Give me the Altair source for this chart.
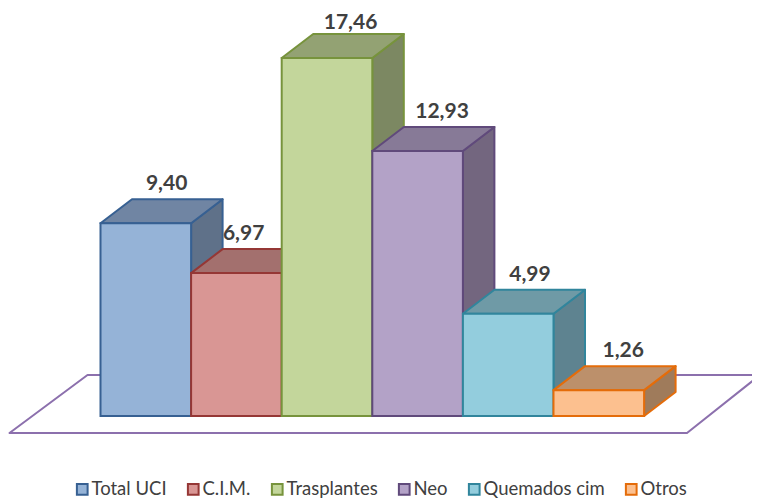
import altair as alt
import pandas as pd

categories = ["Total UCI", "C.I.M.", "Trasplantes", "Neo", "Quemados cim", "Otros"]
values = [9.40, 6.97, 17.46, 12.93, 4.99, 1.26]
labels = ["9,40", "6,97", "17,46", "12,93", "4,99", "1,26"]
front_fill = ["#95B3D7", "#D99694", "#C3D69B", "#B3A2C7", "#93CDDD", "#FCC08F"]
edge = ["#376092", "#953735", "#77933C", "#604A7B", "#31859C", "#E46C0A"]
top_fill = ["#7085A3", "#A3706E", "#93A273", "#877A97", "#6F9AA6", "#BC906B"]
side_fill = ["#5F7189", "#8A5F5E", "#7C8862", "#73667F", "#5E8390", "#9F7B5B"]
label_shift = [0.73, 0.58, 0.76, 0.77, 0.74, 0.77]
label_lift = [0, 0, -4, 0, 0, 0]

W, H = 744, 490
SLOT = 90.6
UNIT = 20.5
X0 = 92.5
Y0 = 408
DX = 31.5 / SLOT
DY = 24 / UNIT

xs = alt.Scale(domain=[-X0 / SLOT, (W - X0) / SLOT], nice=False, zero=False)
ys = alt.Scale(domain=[(Y0 - H) / UNIT, Y0 / UNIT], nice=False, zero=False)
X = alt.X("x:Q", scale=xs, axis=None)
Y = alt.Y("y:Q", scale=ys, axis=None)
Y2 = alt.Y2("y2:Q")


def poly(points, fill, stroke, sw=2):
    df = pd.DataFrame(points, columns=["x", "y", "y2"])
    return alt.Chart(df).mark_area(
        fill=fill, stroke=stroke, strokeWidth=sw, opacity=1, interpolate="linear", strokeJoin="round"
    ).encode(x=X, y=Y, y2=Y2)


layers = []
# floor plane
fb, ft = -17 / UNIT, 41 / UNIT
layers.append(poly(
    [(-91 / SLOT, fb, fb), (-13 / SLOT, ft, fb), (586.5 / SLOT, ft, fb), (659.5 / SLOT, ft, ft)],
    "#FFFFFF", "#8C70AD", 2,
))

color_scale = alt.Scale(domain=categories, range=front_fill)
stroke_scale = alt.Scale(domain=categories, range=edge)
legend = alt.Legend(
    title=None, orient="none", legendX=65, legendY=472, direction="horizontal", columns=6,
    symbolType="square", symbolSize=115, symbolStrokeWidth=2, symbolOpacity=1,
    labelFont="Lato", labelFontSize=18.5, labelColor="#404040", labelOffset=0,
    columnPadding=16, gridAlign="each", labelLimit=200, padding=0,
)

for i, (cat, v) in enumerate(zip(categories, values)):
    # side face
    layers.append(poly(
        [(i + 1, v, 0), (i + 1 + DX, v + DY, DY)], side_fill[i], edge[i]))
    # top face
    layers.append(poly(
        [(i, v, v), (i + DX, v + DY, v), (i + 1, v + DY, v), (i + 1 + DX, v + DY, v + DY)],
        top_fill[i], edge[i]))
    # front face
    df = pd.DataFrame({"cat": [cat], "x": [i], "x2": [i + 1], "y": [v], "y2": [0]})
    layers.append(alt.Chart(df).mark_rect(strokeWidth=2, opacity=1).encode(
        x=X, x2=alt.X2("x2:Q"), y=Y, y2=Y2,
        fill=alt.Fill("cat:N", scale=color_scale, sort=categories, legend=legend),
        stroke=alt.Stroke("cat:N", scale=stroke_scale, sort=categories, legend=legend),
    ))

label_df = pd.DataFrame({
    "x": [i + s for i, s in enumerate(label_shift)],
    "y": [v + DY + lift / UNIT for v, lift in zip(values, label_lift)],
    "t": labels,
})
layers.append(alt.Chart(label_df).mark_text(
    font="Lato", fontSize=21, fontWeight="bold", color="#404040", dy=-15, baseline="middle", align="center"
).encode(x=X, y=Y, text="t:N"))

chart = alt.layer(*layers).properties(
    width=W, height=H, padding=0, autosize=alt.AutoSizeParams(type="none")
).configure_view(stroke=None).resolve_scale(fill="shared", stroke="shared")

chart.save("out.html", embed_options={"renderer": "svg", "actions": False})
